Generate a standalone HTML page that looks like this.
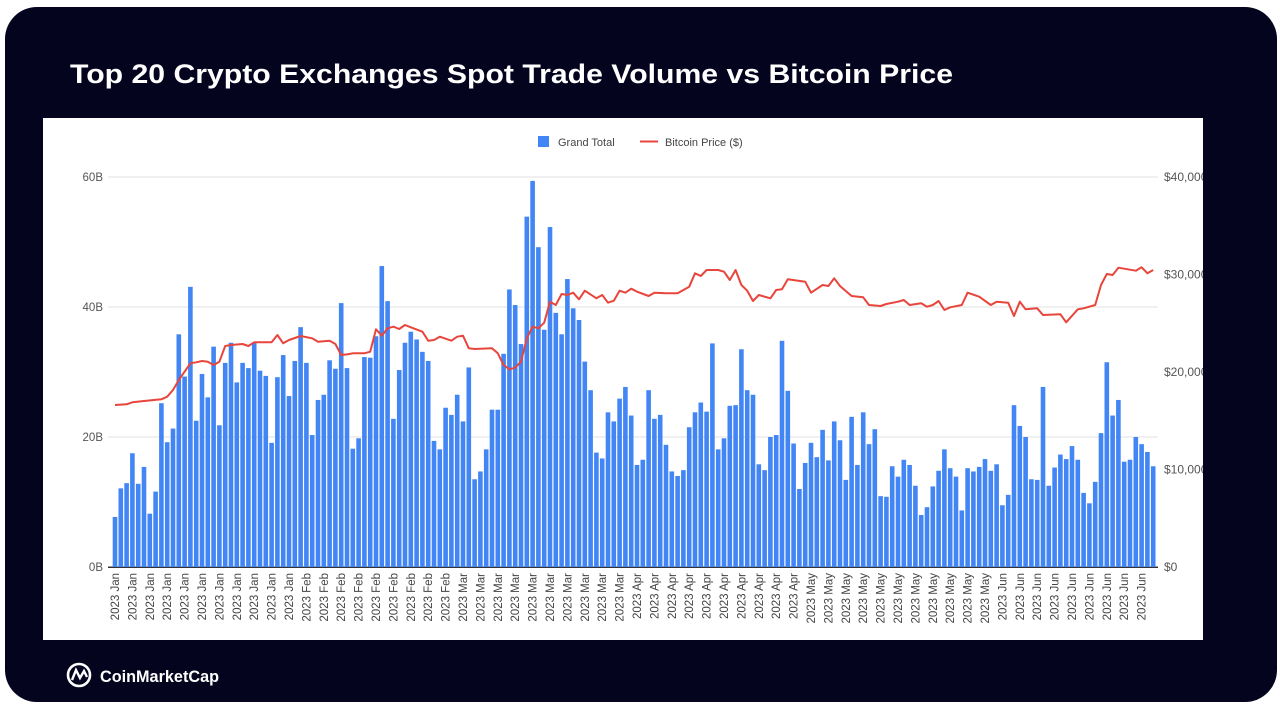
<!DOCTYPE html>
<html><head><meta charset="utf-8"><style>
html,body{margin:0;padding:0;background:#fff;width:1280px;height:720px;overflow:hidden}
svg{display:block;font-family:"Liberation Sans",sans-serif}
</style></head><body>
<svg id="chart" width="1280" height="720" viewBox="0 0 1280 720">
<defs><clipPath id="panelClip"><rect x="43" y="118" width="1160" height="522"/></clipPath></defs>
<rect x="5" y="7" width="1272" height="695" rx="32" fill="#05041f"/>
<text x="70" y="83" fill="#fff" font-size="27" font-weight="bold" textLength="883" lengthAdjust="spacingAndGlyphs">Top 20 Crypto Exchanges Spot Trade Volume vs Bitcoin Price</text>
<rect x="43" y="118" width="1160" height="522" fill="#fff"/>
<g id="grid" clip-path="url(#panelClip)"></g><g id="bars"></g><g id="line"></g><g id="xlabels"></g>
<g>
<rect x="538" y="136" width="11" height="11" fill="#4285f4"/>
<text x="558" y="146" font-size="11" fill="#444">Grand Total</text>
<line x1="640" y1="141.5" x2="658" y2="141.5" stroke="#e8453c" stroke-width="2"/>
<text x="665" y="146" font-size="11" fill="#444">Bitcoin Price ($)</text>
</g>
<g>
<circle cx="79" cy="675" r="11" fill="none" stroke="#fff" stroke-width="2.6"/>
<path d="M72 680 L76 670 L80 678 L84 671 L87 677" fill="none" stroke="#fff" stroke-width="2.4"/>
<text x="100" y="682" fill="#fff" font-size="17" font-weight="bold" textLength="119" lengthAdjust="spacingAndGlyphs">CoinMarketCap</text>
</g>
</svg>
<script>
const volumes = [7.7,12.1,12.9,17.5,12.8,15.4,8.2,11.6,25.2,19.2,21.3,35.8,29.3,43.1,22.5,29.7,26.1,33.9,21.8,31.4,34.5,28.4,31.4,30.6,34.5,30.2,29.4,19.1,29.2,32.6,26.3,31.7,36.9,31.4,20.3,25.7,26.5,31.8,30.5,40.6,30.6,18.2,19.8,32.3,32.2,35.5,46.3,40.9,22.8,30.3,34.5,36.2,35.0,33.1,31.7,19.4,18.1,24.5,23.4,26.5,22.4,30.7,13.5,14.7,18.1,24.2,24.2,32.8,42.7,40.3,34.3,53.9,59.4,49.2,36.5,52.3,39.1,35.8,44.3,39.8,38.0,31.6,27.2,17.6,16.7,23.8,22.4,25.9,27.7,23.3,15.7,16.5,27.2,22.8,23.4,18.8,14.7,14.0,14.9,21.5,23.8,25.3,23.9,34.4,18.1,19.8,24.8,24.9,33.5,27.2,26.5,15.8,14.9,20.0,20.3,34.8,27.1,19.0,12.0,16.0,19.1,16.9,21.1,16.4,22.4,19.5,13.4,23.1,15.7,23.8,18.9,21.2,10.9,10.8,15.5,13.9,16.5,15.7,12.5,8.0,9.2,12.4,14.8,18.1,15.2,13.9,8.7,15.2,14.7,15.4,16.6,14.8,15.8,9.5,11.1,24.9,21.7,20.0,13.5,13.4,27.7,12.5,15.3,17.3,16.6,18.6,16.5,11.4,9.8,13.1,20.6,31.5,23.3,25.7,16.2,16.5,20.0,18.9,17.7,15.5];
const priceDays = [0,2,3,5,8,9,10,11,13,14,15,16,17,18,19,20,22,23,24,27,28,29,30,32,34,35,37,38,39,40,41,43,44,45,46,47,48,49,50,51,53,54,55,56,58,59,60,61,62,65,66,67,68,69,70,71,72,73,74,75,76,77,78,79,80,81,83,84,85,86,87,88,89,90,92,93,95,97,99,100,101,102,104,105,106,107,108,109,110,111,113,114,115,116,119,120,122,123,124,125,127,129,130,132,133,135,136,137,139,140,141,142,143,144,146,147,149,151,152,154,155,156,157,159,160,163,164,166,167,169,170,171,172,173,176,177,178,179];
const prices = [16615,16684,16890,17025,17195,17470,18150,19180,20890,20990,21130,21060,20720,21060,22665,22770,22870,22665,23045,23045,23795,22940,23280,23690,23455,23110,23210,22870,21740,21810,21915,21915,22085,24375,23725,24480,24650,24410,24820,24580,24135,23210,23280,23625,23210,23625,23725,22430,22360,22430,21915,20720,20275,20440,21060,23455,24650,24480,25055,27210,26870,28000,27895,28135,27455,28340,27555,27895,27110,27315,28340,28135,28545,28240,27795,28135,28070,28070,28750,30120,29845,30460,30460,30290,29435,30460,28920,28340,27280,27895,27555,28410,28480,29505,29265,28135,28920,28820,29610,28820,27795,27660,26870,26770,26975,27210,27385,26870,27045,26700,26870,27280,26360,26635,26870,28135,27725,26870,27210,27110,25740,27210,26430,26530,25845,25915,25095,26430,26530,26870,28920,30050,29950,30700,30390,30735,30120,30460];
const leftTicks = ["0B","20B","40B","60B"];
const leftTickValues = [0,20,40,60];
const rightTicks = ["$0","$10,000","$20,000","$30,000","$40,000"];
const rightTickValues = [0,10000,20000,30000,40000];
const monthNames = ["Jan","Feb","Mar","Apr","May","Jun"];
const monthStartDays = [0,31,59,90,120,151];

const NS="http://www.w3.org/2000/svg";
const X0=115, STEP=5.8, Y0=567, PLOT_H=390;
function xDay(i){return X0+i*STEP;}
function yVol(v){return Y0-v/60*PLOT_H;}
function yPrice(p){return Y0-p/40000*PLOT_H;}
function mk(tag,attrs,parent){const e=document.createElementNS(NS,tag);for(const k in attrs)e.setAttribute(k,attrs[k]);parent.appendChild(e);return e;}
const grid=document.getElementById('grid');
leftTickValues.forEach((v,i)=>{
  const l=mk('line',{x1:108,x2:1158,y1:yVol(v),y2:yVol(v),stroke:i==0?'#333':'#e0e0e0','stroke-width':1},grid);
  
  
  const t=mk('text',{x:103,y:yVol(v)+4,'font-size':11.5,fill:'#555','text-anchor':'end'},grid);
  t.textContent=leftTicks[i];
  
  
});
rightTickValues.forEach((v,i)=>{
  const t=mk('text',{x:1164,y:yPrice(v)+4,'font-size':12,fill:'#555'},grid);
  t.textContent=rightTicks[i];
  
  
});
const bars=document.getElementById('bars');
volumes.forEach((v,i)=>{
  const r=mk('rect',{x:xDay(i)-2.3,y:yVol(v),width:4.6,height:Y0-yVol(v),fill:'#4285f4'},bars);
  
  
});
mk('line',{x1:108,x2:1158,y1:Y0+0.5,y2:Y0+0.5,stroke:'#333','stroke-width':1},grid);
const pts=priceDays.map((d,i)=>xDay(d).toFixed(1)+','+yPrice(prices[i]).toFixed(1)).join(' ');
const pl=mk('polyline',{points:pts,fill:'none',stroke:'#e8453c','stroke-width':2,'stroke-linejoin':'round'},document.getElementById('line'));


const xl=document.getElementById('xlabels');
for(let d=0;d<volumes.length;d+=3){
  let m=0;for(let k=0;k<monthStartDays.length;k++)if(d>=monthStartDays[k])m=k;
  const x=xDay(d)+4;
  const t=mk('text',{x:x,y:573,'font-size':11.5,fill:'#444','text-anchor':'end',transform:`rotate(-90 ${x} 573)`},xl);
  t.textContent='2023 '+monthNames[m];
  
  
}
</script>
</body></html>
